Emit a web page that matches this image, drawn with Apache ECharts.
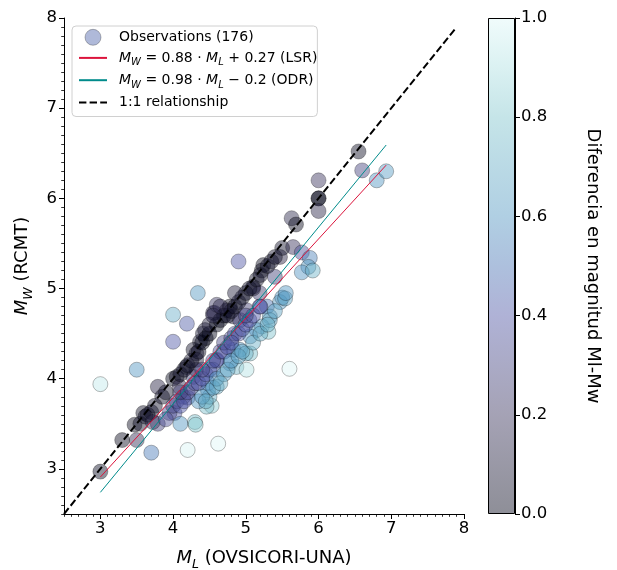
<!DOCTYPE html>
<html>
<head>
<meta charset="utf-8">
<script src="https://cdn.jsdelivr.net/npm/echarts@6/dist/echarts.min.js"></script>
<style>
  html, body { margin: 0; padding: 0; background: #fff; }
  #chart { width: 617px; height: 570px; }
</style>
</head>
<body>
<div id="chart"></div>
<script>
// Local magnitude (OVSICORI-UNA) and moment magnitude (RCMT) per event
const ML = [
  3.00,3.00,3.30,3.50,3.47,3.55,3.59,3.70,3.62,3.79,
  3.72,3.70,3.50,3.79,4.00,4.05,4.02,3.95,4.09,4.00,
  4.19,4.00,4.34,4.20,4.62,4.30,4.31,4.53,4.46,4.50,
  4.10,4.20,4.14,4.28,4.48,4.48,4.32,4.18,4.32,4.28,
  4.32,4.37,4.41,4.44,4.55,4.57,4.60,4.74,4.78,4.83,
  4.92,5.01,5.10,5.19,5.29,5.33,5.22,5.31,5.15,5.06,
  4.83,4.78,4.87,5.06,4.60,4.55,4.60,4.92,5.00,5.01,
  5.60,5.33,5.47,5.19,4.90,5.24,5.22,5.47,5.40,5.50,
  5.54,5.10,5.65,5.77,5.88,5.86,5.77,5.92,5.63,5.69,
  6.00,6.00,6.00,6.00,6.55,6.60,6.80,6.93,3.65,3.75,
  3.85,3.90,4.10,4.15,4.20,4.25,4.35,4.40,4.45,4.50,
  4.50,4.60,4.65,4.70,4.75,4.80,4.85,4.90,4.95,5.00,
  5.05,5.15,5.20,5.30,5.35,5.40,5.50,4.55,4.65,4.85,
  3.90,4.00,4.05,4.10,4.15,4.10,4.20,4.25,4.30,4.35,
  4.40,4.45,4.50,4.40,4.60,4.65,4.70,4.70,4.80,4.85,
  4.90,4.95,5.00,5.05,5.10,5.20,4.75,4.55,4.80,5.00,
  4.35,4.40,4.55,4.60,4.70,4.75,4.80,4.90,4.95,5.10,
  5.20,5.30,5.40,5.55,4.65,4.45
];
const MW = [
  2.97,3.94,3.32,3.32,3.49,3.50,3.62,3.63,3.58,3.50,
  3.52,3.18,4.10,3.91,4.00,4.02,3.62,3.62,3.91,4.71,
  4.61,4.41,4.95,3.21,3.28,3.52,3.49,3.70,3.69,3.80,
  3.50,3.79,3.80,4.02,3.95,3.87,4.10,4.13,4.28,4.32,
  4.21,4.41,4.50,4.54,4.73,4.73,4.82,4.76,4.80,4.69,
  4.65,4.76,5.02,4.95,4.80,4.69,4.58,4.52,4.54,4.47,
  4.32,4.17,4.13,4.28,4.21,4.10,3.91,4.32,4.28,4.10,
  4.11,4.65,4.85,4.80,5.30,5.26,5.20,5.35,5.13,4.90,
  4.89,5.00,5.46,5.40,5.34,5.24,5.18,5.20,5.78,5.71,
  6.20,6.00,6.00,5.86,6.52,6.31,6.20,6.30,3.60,3.70,
  3.80,3.85,4.05,4.10,4.15,4.20,4.30,4.40,4.45,4.50,
  4.60,4.60,4.65,4.70,4.70,4.75,4.80,4.85,4.90,4.95,
  5.00,5.10,5.15,5.25,5.30,5.35,5.45,4.70,4.80,4.95,
  3.55,3.70,3.75,3.70,3.75,3.85,3.85,3.90,3.95,3.95,
  4.00,4.05,4.10,4.10,4.20,4.30,4.30,4.40,4.45,4.50,
  4.50,4.55,4.60,4.65,4.70,4.80,4.35,4.20,4.40,4.70,
  3.75,3.80,3.90,4.00,4.05,4.10,4.20,4.25,4.30,4.40,
  4.50,4.60,4.75,4.95,3.95,3.75
];

// Regression fits quoted in the legend
const LSR = { slope: 0.88, intercept: 0.27 };
const ODR = { slope: 0.98, intercept: -0.2 };
const ONE_TO_ONE = [2.5, 7.88];

// Axis ticks
const xTicks = [3, 4, 5, 6, 7, 8];
const yTicks = [3, 4, 5, 6, 7, 8];
const cbarTicks = [0, 0.2, 0.4, 0.6, 0.8, 1.0];

// Colormap for |Ml - Mw|, evenly spaced stops 0 .. 1 (dark -> blue -> pale cyan)
const CMAP = ['#05061a', '#1e1c3a', '#37315b', '#434380', '#4e54a4', '#4973b4',
              '#5095c1', '#66acc6', '#7fc4cc', '#aee0e2', '#def7f7'];
const ALPHA = 0.45;

const FONT = 'DejaVu Sans';

function hexToRgba(hex, a) {
  const n = parseInt(hex.slice(1), 16);
  return 'rgba(' + ((n >> 16) & 255) + ',' + ((n >> 8) & 255) + ',' + (n & 255) + ',' + a + ')';
}

const points = ML.map((x, i) => [x, MW[i], Math.abs(x - MW[i])]);
const xMin = Math.min(...ML), xMax = Math.max(...ML);
const fitLine = f => [[xMin, f.slope * xMin + f.intercept], [xMax, f.slope * xMax + f.intercept]];

const richLegend = {
  t: { fontSize: 14, fontFamily: FONT, color: '#000', lineHeight: 20 },
  i: { fontSize: 14, fontFamily: FONT, fontStyle: 'italic', color: '#000', lineHeight: 20 },
  s: { fontSize: 10, fontFamily: FONT, fontStyle: 'italic', color: '#000', lineHeight: 20, verticalAlign: 'bottom' }
};
const richAxis = {
  t: { fontSize: 18, fontFamily: FONT, color: '#000', lineHeight: 26 },
  i: { fontSize: 18, fontFamily: FONT, fontStyle: 'italic', color: '#000', lineHeight: 26 },
  s: { fontSize: 12.5, fontFamily: FONT, fontStyle: 'italic', color: '#000', lineHeight: 26, verticalAlign: 'bottom' }
};

const legendLabels = {
  'LSR': '{i|M}{s|W}{t| = 0.88 · }{i|M}{s|L}{t| + 0.27 (LSR)}',
  'ODR': '{i|M}{s|W}{t| = 0.98 · }{i|M}{s|L}{t| − 0.2 (ODR)}',
  'Observations (176)': '{t|Observations (176)}',
  '1:1 relationship': '{t|1:1 relationship}'
};

const majorAxisCommon = {
  type: 'value',
  axisLine: { show: true, lineStyle: { color: '#000', width: 1 } },
  splitLine: { show: false }
};
const minorAxisCommon = {
  type: 'value',
  interval: 0.1,
  axisLine: { show: false },
  axisTick: { show: true, length: 2.8, lineStyle: { color: '#000', width: 0.8 } },
  axisLabel: { show: false },
  splitLine: { show: false }
};

// Line legend entries: keep the stroke, hide the marker
const noMarker = { color: 'rgba(0,0,0,0)', borderWidth: 0 };

const chart = echarts.init(document.getElementById('chart'), null, { renderer: 'canvas' });

chart.setOption({
  animation: false,
  backgroundColor: '#fff',
  grid: [
    { left: 64, top: 18, width: 400, height: 496, outerBoundsMode: 'none', containLabel: false },
    { left: 488, top: 18, width: 27, height: 496, outerBoundsMode: 'none', containLabel: false }
  ],
  xAxis: [
    Object.assign({}, majorAxisCommon, {
      gridIndex: 0, min: 2.5, max: 8,
      axisTick: { show: true, length: 5, customValues: xTicks, lineStyle: { color: '#000', width: 1 } },
      axisLabel: { customValues: xTicks, fontSize: 16.5, fontFamily: FONT, color: '#000', margin: 6 },
      name: '{i|M}{s|L}{t| (OVSICORI-UNA)}',
      nameLocation: 'middle', nameGap: 31,
      nameTextStyle: { rich: richAxis }
    }),
    Object.assign({}, minorAxisCommon, { gridIndex: 0, min: 2.5, max: 8, position: 'bottom' }),
    { gridIndex: 1, type: 'category', data: ['cbar'], show: false }
  ],
  yAxis: [
    Object.assign({}, majorAxisCommon, {
      gridIndex: 0, min: 2.5, max: 8,
      axisTick: { show: true, length: 5, customValues: yTicks, lineStyle: { color: '#000', width: 1 } },
      axisLabel: { customValues: yTicks, fontSize: 16.5, fontFamily: FONT, color: '#000', margin: 7 },
      name: '{i|M}{s|W}{t| (RCMT)}',
      nameLocation: 'middle', nameGap: 27, nameRotate: 90,
      nameTextStyle: { rich: richAxis }
    }),
    Object.assign({}, minorAxisCommon, { gridIndex: 0, min: 2.5, max: 8, position: 'left' }),
    {
      gridIndex: 1, type: 'value', min: 0, max: 1, interval: 0.2, position: 'right',
      axisLine: { show: true, lineStyle: { color: '#000', width: 1 } },
      axisTick: { show: true, length: 5, lineStyle: { color: '#000', width: 1 } },
      axisLabel: { fontSize: 16.5, fontFamily: FONT, color: '#000', margin: 6,
                   formatter: v => v.toFixed(1) },
      splitLine: { show: false },
      name: 'Diferencia en magnitud Ml-Mw',
      nameLocation: 'middle', nameGap: 69, nameRotate: -90,
      nameTextStyle: { fontSize: 18, fontFamily: FONT, color: '#000' }
    }
  ],
  visualMap: {
    type: 'continuous', show: false, seriesIndex: 0, dimension: 2,
    min: 0, max: 1, inRange: { color: CMAP }
  },
  legend: {
    orient: 'vertical', left: 72, top: 26,
    itemWidth: 28, itemHeight: 16, itemGap: 5.3,
    padding: [3, 0, 7, 6],
    borderColor: '#d0d0d0', borderWidth: 1, borderRadius: 4,
    backgroundColor: 'rgba(255,255,255,0.8)',
    data: [
      { name: 'Observations (176)', icon: 'circle',
        itemStyle: { color: 'rgb(78,100,170)', borderColor: '#000', borderWidth: 0.6 } },
      { name: 'LSR', itemStyle: noMarker },
      { name: 'ODR', itemStyle: noMarker },
      { name: '1:1 relationship', itemStyle: noMarker }
    ],
    formatter: name => legendLabels[name],
    textStyle: { fontSize: 14, fontFamily: FONT, color: '#000', padding: [0, 0, 0, 7], rich: richLegend }
  },
  series: [
    {
      name: 'Observations (176)', type: 'scatter',
      xAxisIndex: 0, yAxisIndex: 0,
      data: points, symbolSize: 15, z: 2,
      itemStyle: { opacity: ALPHA, borderColor: '#000', borderWidth: 0.6 }
    },
    {
      name: 'LSR', type: 'line', xAxisIndex: 0, yAxisIndex: 0,
      data: fitLine(LSR), symbol: 'none', z: 3,
      lineStyle: { color: '#dc143c', width: 1 }, itemStyle: { color: '#dc143c' }
    },
    {
      name: 'ODR', type: 'line', xAxisIndex: 0, yAxisIndex: 0,
      data: fitLine(ODR), symbol: 'none', z: 3,
      lineStyle: { color: '#008b8b', width: 1 }, itemStyle: { color: '#008b8b' }
    },
    {
      name: '1:1 relationship', type: 'line', xAxisIndex: 0, yAxisIndex: 0,
      data: ONE_TO_ONE.map(v => [v, v]), symbol: 'none', z: 4,
      lineStyle: { color: '#000', width: 2, type: [7.4, 3.2] }, itemStyle: { color: '#000' }
    },
    {
      name: 'colorbar', type: 'bar', xAxisIndex: 2, yAxisIndex: 2,
      data: [1], barWidth: '100%', silent: true,
      itemStyle: {
        color: new echarts.graphic.LinearGradient(0, 1, 0, 0,
          CMAP.map((c, i) => ({ offset: i / (CMAP.length - 1), color: hexToRgba(c, ALPHA) }))),
        borderColor: '#000', borderWidth: 1
      }
    }
  ]
});
</script>
</body>
</html>
